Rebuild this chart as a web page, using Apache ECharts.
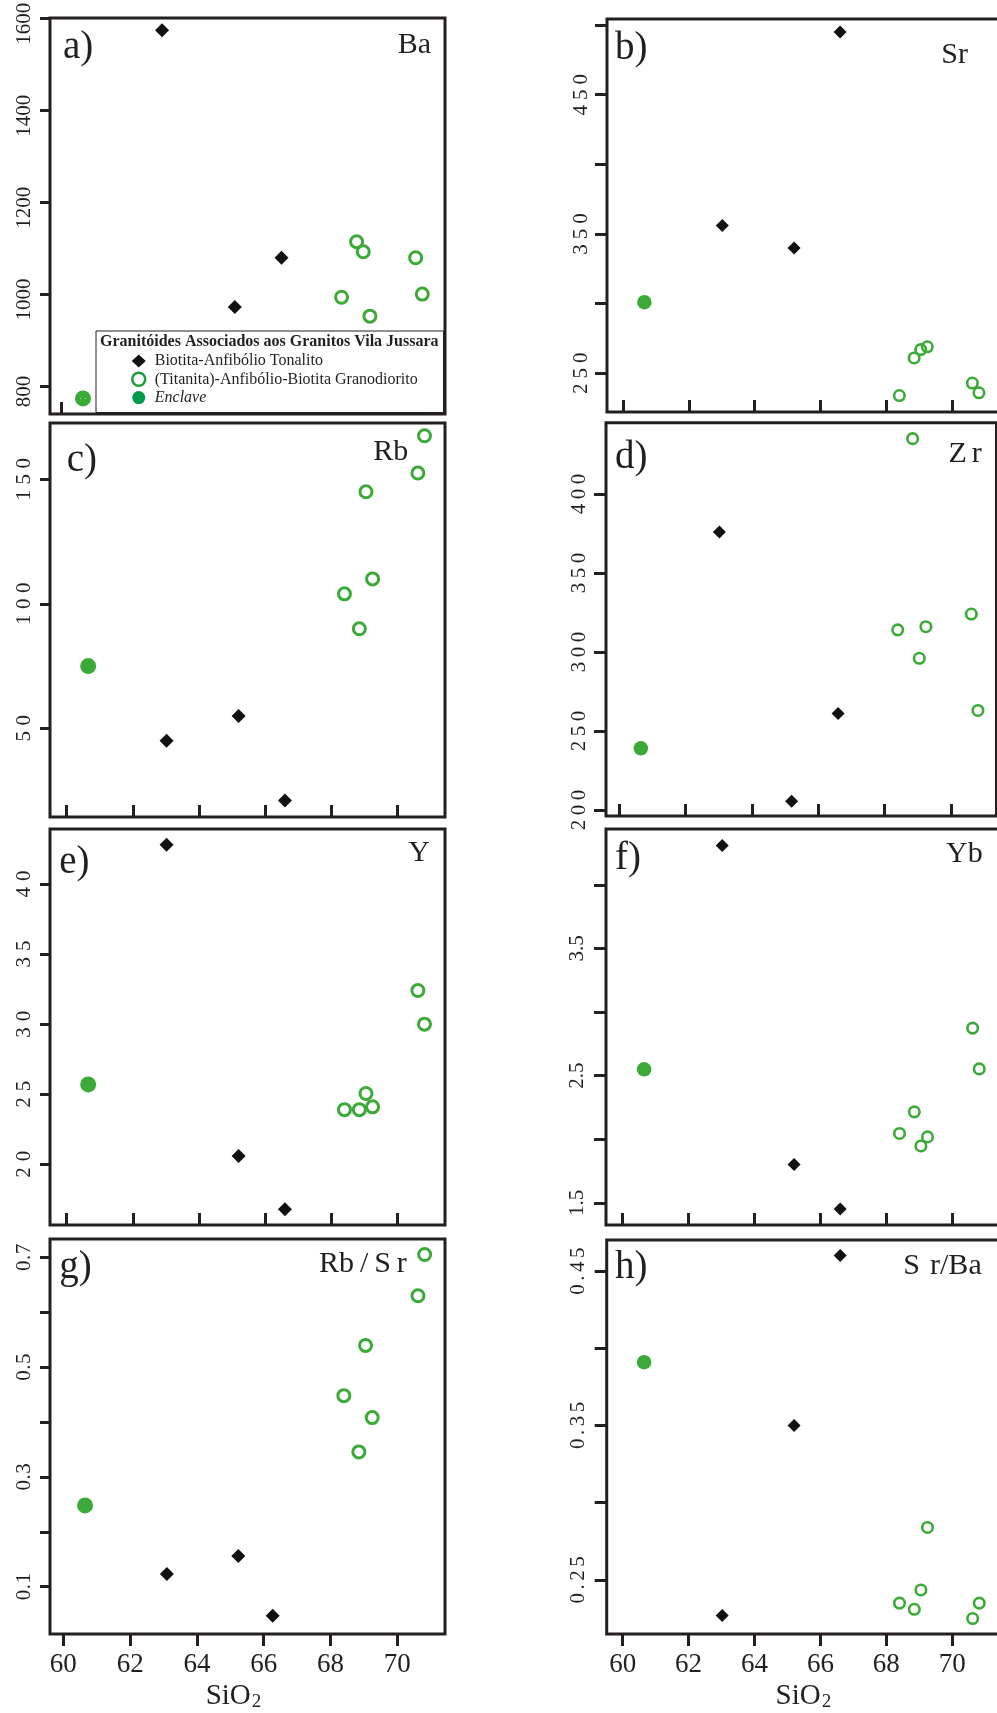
<!DOCTYPE html>
<html>
<head>
<meta charset="utf-8">
<script src="https://cdn.jsdelivr.net/npm/echarts@6/dist/echarts.min.js"></script>
<style>
html, body { margin: 0; padding: 0; background: #ffffff; }
#chart { width: 997px; height: 1713px; }
</style>
</head>
<body>
<div id="chart"></div>
<script>
// SiO2 (wt.%) of the analysed samples
const sio2Tonalito = [63.02, 65.2, 66.6];
const sio2Granodiorito = [68.4, 68.85, 69.05, 69.25, 70.62, 70.82];
const sio2Enclave = [60.65];
const sio2TonalitoRbSr = [63.1, 65.24, 66.27];

// Ba (ppm)
const baTonalito = [1574, 972, 1079];
const baGranodiorito = [993, 1114, 1092, 952, 1079, 1000];
const baEnclave = [773];
// Sr (ppm)
const srTonalito = [356, 340, 495];
const srGranodiorito = [234, 261, 267, 269, 243, 236];
const srEnclave = [301];
// Rb (ppm)
const rbTonalito = [45, 55, 21];
const rbGranodiorito = [104, 90, 145, 110, 152.5, 167.5];
const rbEnclave = [75];
// Zr (ppm)
const zrTonalito = [376, 205.5, 261];
const zrGranodiorito = [314, 435, 296, 316, 324, 263];
const zrEnclave = [239];
// Y (ppm)
const yTonalito = [42.8, 20.6, 16.8];
const yGranodiorito = [23.9, 23.9, 25.05, 24.1, 32.4, 30.0];
const yEnclave = [25.7];
// Yb (ppm)
const ybTonalito = [4.31, 1.80, 1.45];
const ybGranodiorito = [2.045, 2.215, 1.947, 2.018, 2.874, 2.553];
const ybEnclave = [2.55];
// Rb/Sr
const rbSrTonalito = [0.123, 0.156, 0.047];
const rbSrGranodiorito = [0.448, 0.3455, 0.5395, 0.408, 0.630, 0.705];
const rbSrEnclave = [0.248];
// Sr/Ba
const srBaTonalito = [0.227, 0.350, 0.460];
const srBaGranodiorito = [0.235, 0.231, 0.2435, 0.284, 0.225, 0.235];
const srBaEnclave = [0.391];

// Tick positions and labelled ticks
const sio2Ticks = [60, 62, 64, 66, 68, 70];
const baTicks = [800, 1000, 1200, 1400, 1600];
const baLabels = [800, 1000, 1200, 1400, 1600];
const srTicks = [250, 300, 350, 400, 450, 500];
const srLabels = [250, 350, 450];
const rbTicks = [50, 100, 150];
const rbLabels = [50, 100, 150];
const zrTicks = [200, 250, 300, 350, 400];
const zrLabels = [200, 250, 300, 350, 400];
const yTicks = [20, 25, 30, 35, 40];
const yLabels = [20, 25, 30, 35, 40];
const ybTicks = [1.5, 2, 2.5, 3, 3.5, 4];
const ybLabels = [1.5, 2.5, 3.5];
const rbSrTicks = [0.1, 0.2, 0.3, 0.4, 0.5, 0.6, 0.7];
const rbSrLabels = [0.1, 0.3, 0.5, 0.7];
const srBaTicks = [0.25, 0.3, 0.35, 0.4, 0.45];
const srBaLabels = [0.25, 0.35, 0.45];

const LEG_TON = 'Biotita-Anfibólio Tonalito';
const LEG_GRA = '(Titanita)-Anfibólio-Biotita Granodiorito';
const LEG_ENC = 'Enclave';
const LEG_TITLE = 'Granitóides Associados aos Granitos Vila Jussara';

const INK = '#231f20';
const GREEN = '#3caa38';
const FONT = '"Liberation Serif", "Times New Roman", "DejaVu Serif", serif';

// Panel layout: frame box [left, top, width, height], axis extents and text placement.
// el: title pieces, drawn with a small gap between them
const panels = [
  { tag: 'a)', el: ['Ba'], box: [50, 18, 395, 396], xr: [59.661, 71.50], yr: [739.1, 1600.65],
    sx: [sio2Tonalito, sio2Granodiorito, sio2Enclave], sy: [baTonalito, baGranodiorito, baEnclave],
    ticks: baTicks, labels: baLabels, gap: 0, shift: 11, margin: 15,
    tagPos: [63, 55], elPos: [431, 55], elGap: 0, col: 0, xLabels: false },
  { tag: 'b)', el: ['Sr'], box: [607, 19, 393, 393], xr: [59.514, 71.46], yr: [222.2, 504.3],
    sx: [sio2Tonalito, sio2Granodiorito, sio2Enclave], sy: [srTonalito, srGranodiorito, srEnclave],
    ticks: srTicks, labels: srLabels, gap: 5, shift: 0, margin: 15,
    tagPos: [615, 56.7], elPos: [968, 65], elGap: 0, col: 1, xLabels: false },
  { tag: 'c)', el: ['Rb'], box: [50, 423, 395, 394], xr: [59.495, 71.44], yr: [14.4, 172.6],
    sx: [sio2Tonalito, sio2Granodiorito, sio2Enclave], sy: [rbTonalito, rbGranodiorito, rbEnclave],
    ticks: rbTicks, labels: rbLabels, gap: 5.5, shift: 0, margin: 15,
    tagPos: [66.7, 468.3], elPos: [408.3, 461.7], elGap: 0, col: 0, xLabels: false },
  { tag: 'd)', el: ['Z', 'r'], box: [606, 422.7, 390.5, 393.3], xr: [59.599, 71.38], yr: [196.2, 445.1],
    sx: [sio2Tonalito, sio2Granodiorito, sio2Enclave], sy: [zrTonalito, zrGranodiorito, zrEnclave],
    ticks: zrTicks, labels: zrLabels, gap: 4.5, shift: 0, margin: 16,
    tagPos: [615, 465], elPos: [981.7, 463.3], elGap: 5, col: 1, xLabels: false },
  { tag: 'e)', el: ['Y'], box: [50, 829, 395, 396], xr: [59.495, 71.44], yr: [15.67, 43.92],
    sx: [sio2Tonalito, sio2Granodiorito, sio2Enclave], sy: [yTonalito, yGranodiorito, yEnclave],
    ticks: yTicks, labels: yLabels, gap: 6, shift: 0, margin: 15,
    tagPos: [59.3, 870], elPos: [430, 862.7], elGap: 0, col: 0, xLabels: false },
  { tag: 'f)', el: ['Yb'], box: [606, 829, 394, 396], xr: [59.493, 71.45], yr: [1.325, 4.44],
    sx: [sio2Tonalito, sio2Granodiorito, sio2Enclave], sy: [ybTonalito, ybGranodiorito, ybEnclave],
    ticks: ybTicks, labels: ybLabels, gap: 0, shift: 0, margin: 18,
    tagPos: [615, 866.7], elPos: [982.7, 863.3], elGap: 0, col: 1, xLabels: false },
  { tag: 'g)', el: ['Rb', '/', 'S', 'r'], box: [50, 1239, 395, 395], xr: [59.60, 71.43], yr: [0.0138, 0.7333],
    sx: [sio2TonalitoRbSr, sio2Granodiorito, sio2Enclave], sy: [rbSrTonalito, rbSrGranodiorito, rbSrEnclave],
    ticks: rbSrTicks, labels: rbSrLabels, gap: 0.5, shift: 0, margin: 15,
    tagPos: [59.3, 1275], elPos: [406.7, 1273.3], elGap: 5.9, col: 0, xLabels: true, nameShift: 28 },
  { tag: 'h)', el: ['S', 'r/Ba'], box: [606.7, 1240, 393.3, 394], xr: [59.515, 71.45], yr: [0.215, 0.4701],
    sx: [sio2Tonalito, sio2Granodiorito, sio2Enclave], sy: [srBaTonalito, srBaGranodiorito, srBaEnclave],
    ticks: srBaTicks, labels: srBaLabels, gap: 3.5, shift: 0, margin: 18,
    tagPos: [615, 1275], elPos: [981.7, 1276], elGap: 10, col: 1, xLabels: true, nameShift: 0 }
];

// marker sizes per column
const markers = [
  { dia: 14, ring: 12, ringW: 3, dot: 16 },
  { dia: 13, ring: 10.5, ringW: 2.6, dot: 14.5 }
];

// one rich token per piece; the last piece may carry extra trailing room
function tokens(pieces, tail) {
  return pieces.map(function (s, k) {
    return '{' + (k === pieces.length - 1 && tail ? 'e' : 'c') + '|' + s + '}';
  }).join('');
}
function zip(xs, ys) {
  return xs.map(function (x, k) { return [x, ys[k]]; });
}

const grids = [], xAxes = [], yAxes = [], series = [], graphics = [];

panels.forEach(function (p, i) {
  grids.push({
    left: p.box[0], top: p.box[1], width: p.box[2], height: p.box[3],
    outerBoundsMode: 'none',
    show: true, borderColor: INK, borderWidth: 3, backgroundColor: 'transparent', containLabel: false
  });

  const xAxis = {
    type: 'value', gridIndex: i, min: p.xr[0], max: p.xr[1],
    axisLine: { show: false, onZero: false },
    splitLine: { show: false },
    axisTick: { show: true, inside: !p.xLabels, length: 12, customValues: sio2Ticks,
                lineStyle: { color: INK, width: 3 } },
    axisLabel: { show: p.xLabels, customValues: sio2Ticks, margin: 17, color: INK,
                 fontFamily: FONT, fontSize: 27 }
  };
  if (p.xLabels) {
    xAxis.name = '{n|SiO}{s|2}';
    xAxis.nameLocation = 'middle';
    xAxis.nameGap = 48;
    xAxis.nameTextStyle = {
      padding: [0, p.nameShift, 0, 0],
      rich: {
        n: { fontFamily: FONT, fontSize: 29, color: INK, lineHeight: 30, verticalAlign: 'top' },
        s: { fontFamily: FONT, fontSize: 19, color: INK, lineHeight: 19, verticalAlign: 'bottom', padding: [14, 0, 0, 1] }
      }
    };
  }
  xAxes.push(xAxis);

  const labelFont = { fontFamily: FONT, fontSize: 21, color: INK };
  yAxes.push({
    type: 'value', gridIndex: i, min: p.yr[0], max: p.yr[1],
    axisLine: { show: false, onZero: false },
    splitLine: { show: false },
    axisTick: { show: true, inside: false, length: p.col === 0 ? 10 : 12, customValues: p.ticks,
                lineStyle: { color: INK, width: 3 } },
    axisLabel: {
      show: true, rotate: 90, margin: p.margin, customValues: p.labels,
      formatter: function (v) { return tokens(String(v).split(''), p.shift > 0); },
      rich: {
        c: Object.assign({ padding: [0, p.gap / 2, 0, p.gap / 2] }, labelFont),
        e: Object.assign({ padding: [0, p.gap / 2 + p.shift, 0, p.gap / 2] }, labelFont)
      }
    }
  });

  const m = markers[p.col];
  series.push({
    type: 'scatter', name: LEG_TON, xAxisIndex: i, yAxisIndex: i,
    data: zip(p.sx[0], p.sy[0]), symbol: 'diamond', symbolSize: m.dia,
    itemStyle: { color: '#111111', opacity: 1 }, z: 3
  });
  series.push({
    type: 'scatter', name: LEG_GRA, xAxisIndex: i, yAxisIndex: i,
    data: zip(p.sx[1], p.sy[1]), symbol: 'circle', symbolSize: m.ring,
    itemStyle: { color: 'rgba(255,255,255,0)', borderColor: GREEN, borderWidth: m.ringW, opacity: 1 }, z: 3
  });
  const enc = {
    type: 'scatter', name: LEG_ENC, xAxisIndex: i, yAxisIndex: i,
    data: zip(p.sx[2], p.sy[2]), symbol: 'circle', symbolSize: m.dot,
    itemStyle: { color: GREEN, opacity: 1 }, z: 3
  };
  if (i === 0) {
    enc.label = { show: true, position: 'inside', formatter: '· ·', color: '#ffffff', fontSize: 8, fontFamily: FONT };
  }
  series.push(enc);

  // panel letter
  graphics.push({
    type: 'text', z: 6, silent: true,
    style: { text: p.tag, x: p.tagPos[0], y: p.tagPos[1] - 0.32 * 39 + 5, fill: INK,
             font: '39px ' + FONT, textAlign: 'left', verticalAlign: 'middle', textVerticalAlign: 'middle' }
  });
  // element / ratio name
  graphics.push({
    type: 'text', z: 6, silent: true,
    style: { text: tokens(p.el, false), x: p.elPos[0] + p.elGap / 2, y: p.elPos[1] - 0.32 * 30,
             align: 'right', textAlign: 'right', verticalAlign: 'middle', textVerticalAlign: 'middle',
             rich: { c: { fontFamily: FONT, fontSize: 30, fill: INK, color: INK,
                          padding: [0, p.elGap / 2, 0, p.elGap / 2] } } }
  });
});

// legend frame inside panel a
graphics.push({
  type: 'rect', z: 3, silent: true,
  shape: { x: 96, y: 331, width: 443.5 - 96, height: 412.5 - 331 },
  style: { fill: '#ffffff', stroke: INK, lineWidth: 1 }
});
graphics.push({
  type: 'text', z: 6, silent: true,
  style: { text: LEG_TITLE, x: 100, y: 347.3 - 0.32 * 16, fill: INK,
           font: 'bold 16px ' + FONT, textAlign: 'left', verticalAlign: 'middle', textVerticalAlign: 'middle' }
});

const option = {
  animation: false,
  backgroundColor: '#ffffff',
  grid: grids,
  xAxis: xAxes,
  yAxis: yAxes,
  series: series,
  graphic: { elements: graphics },
  legend: {
    show: true, orient: 'vertical', left: 131, top: 353, padding: 0,
    itemWidth: 14, itemHeight: 13, itemGap: 2.3, selectedMode: false, z: 5,
    textStyle: { fontFamily: FONT, fontSize: 16, color: INK, padding: [0, 0, 0, 4] },
    data: [
      { name: LEG_TON, icon: 'diamond', itemStyle: { color: '#111111', borderWidth: 0, opacity: 1 } },
      { name: LEG_GRA, icon: 'circle', itemStyle: { color: '#ffffff', borderColor: '#1f9c3e', borderWidth: 2.5, opacity: 1 } },
      { name: LEG_ENC, icon: 'circle', itemStyle: { color: '#009b4a', borderWidth: 0, opacity: 1 },
        textStyle: { fontStyle: 'italic' } }
    ]
  }
};

const chart = echarts.init(document.getElementById('chart'), null, { renderer: 'canvas' });
chart.setOption(option);
</script>
</body>
</html>
